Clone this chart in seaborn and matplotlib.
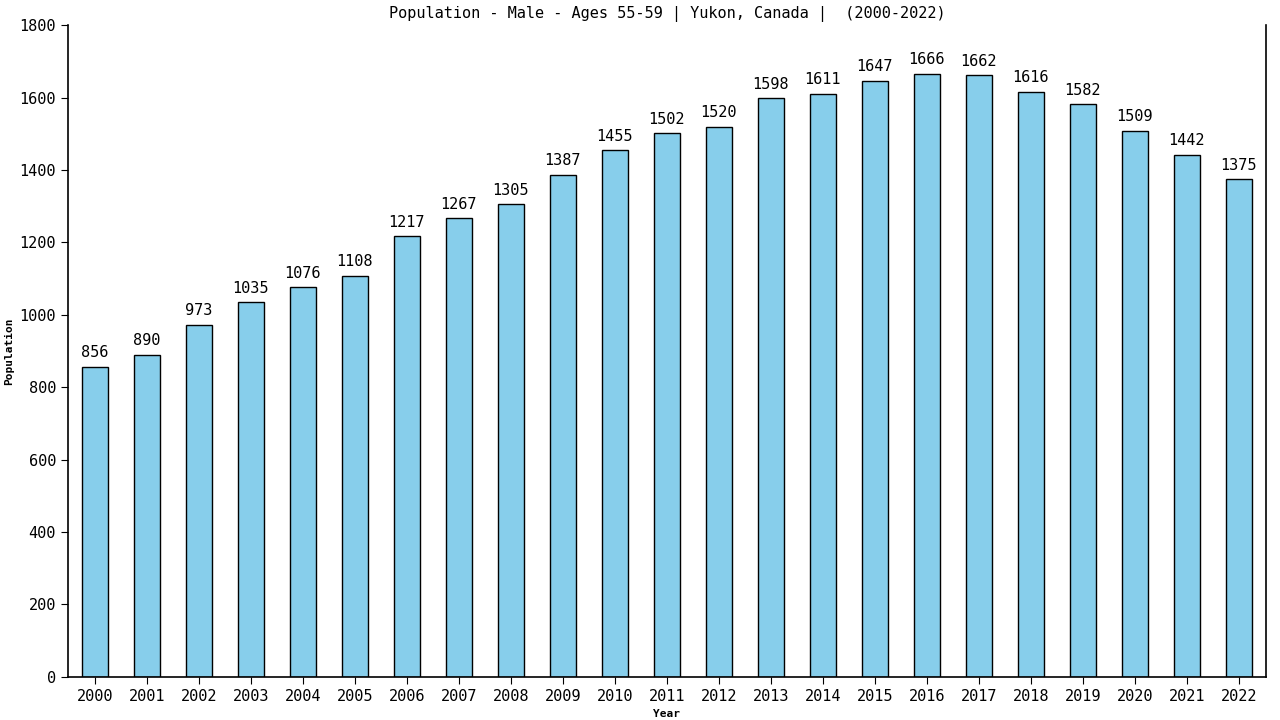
import matplotlib
matplotlib.use("Agg")
import matplotlib.pyplot as plt
import seaborn as sns
import pandas as pd

# ---- data ----
years = [str(y) for y in range(2000, 2023)]
population = [856, 890, 973, 1035, 1076, 1108, 1217, 1267, 1305, 1387, 1455, 1502,
              1520, 1598, 1611, 1647, 1666, 1662, 1616, 1582, 1509, 1442, 1375]

df = pd.DataFrame({"Year": years, "Population": population})

sns.set_style("white")
plt.rcParams['font.family'] = ['DejaVu Sans Mono']
plt.rcParams['text.color'] = 'black'
plt.rcParams['axes.labelcolor'] = 'black'
plt.rcParams['xtick.color'] = 'black'
plt.rcParams['ytick.color'] = 'black'

fig = plt.figure(figsize=(12.8, 7.2), dpi=100)
ax = fig.add_axes([0.053, 0.060, 0.936, 0.905])

sns.barplot(data=df, x="Year", y="Population", color="#87CEEB", width=0.5,
            edgecolor="black", linewidth=1, saturation=1, ax=ax)

for i, v in enumerate(population):
    ax.text(i, v + 18, str(v), ha="center", va="bottom", fontsize=11, color="black")

ax.set_ylim(0, 1800)
ax.set_yticks(range(0, 1801, 200))
ax.set_xlim(-0.52, 22.52)
ax.tick_params(axis="both", labelsize=11, length=5, direction="out",
               bottom=True, left=True, color="black", labelcolor="black")
ax.set_xlabel("Year", fontsize=8, fontweight="bold", color="black")
ax.set_ylabel("Population", fontsize=8, fontweight="bold", color="black")
ax.set_title("Population - Male - Ages 55-59 | Yukon, Canada |  (2000-2022)",
             fontsize=11, pad=5, color="black")

for s in ["left", "bottom", "right"]:
    ax.spines[s].set_visible(True)
    ax.spines[s].set_color("black")
    ax.spines[s].set_linewidth(1.2)
ax.spines["top"].set_visible(False)

fig.savefig("out.png", dpi=100)
